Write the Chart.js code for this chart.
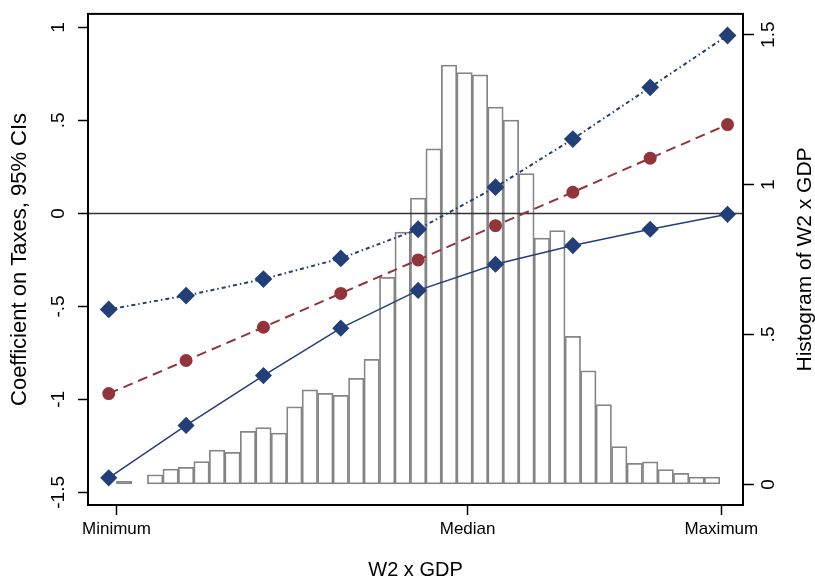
<!DOCTYPE html>
<html>
<head>
<meta charset="utf-8">
<script src="https://cdn.jsdelivr.net/npm/chart.js@4"></script>
<style>
  html, body { margin: 0; padding: 0; background: #fff; }
</style>
</head>
<body>
<canvas id="myChart" width="815" height="583"></canvas>
<script>
// histogram of W2 x GDP (x in bin units, density on right axis)
const binCenters = [-1.5, 0.5, 1.5, 2.5, 3.5, 4.5, 5.5, 6.5, 7.5, 8.5, 9.5, 10.5, 11.5, 12.5,
  13.5, 14.5, 15.5, 16.5, 17.5, 18.5, 19.5, 20.5, 21.5, 22.5, 23.5, 24.5, 25.5, 26.5,
  27.5, 28.5, 29.5, 30.5, 31.5, 32.5, 33.5, 34.5, 35.5, 36.5];
const histDensity = [0.01, 0.032, 0.051, 0.057, 0.076, 0.114, 0.107, 0.177, 0.189, 0.171, 0.259,
  0.315, 0.304, 0.297, 0.354, 0.417, 0.691, 0.842, 0.955, 1.119, 1.399, 1.374, 1.366,
  1.259, 1.215, 1.037, 0.822, 0.847, 0.494, 0.379, 0.266, 0.126, 0.070, 0.075, 0.049,
  0.037, 0.024, 0.024];

// marginal effect of taxes and 95% CIs
const evalPoints = [-2.5, 2.5, 7.5, 12.5, 17.5, 22.5, 27.5, 32.5, 37.5];
const ciUpper = [-0.516, -0.442, -0.353, -0.242, -0.085, 0.141, 0.400, 0.678, 0.957];
const coef    = [-0.969, -0.791, -0.612, -0.430, -0.250, -0.066, 0.114, 0.297, 0.478];
const ciLower = [-1.422, -1.140, -0.872, -0.617, -0.414, -0.273, -0.173, -0.085, -0.005];

const xTickValues = [-2, 20.7, 37.1];
const xTickLabels = ["Minimum", "Median", "Maximum"];
const leftTicks = [-1.5, -1, -0.5, 0, 0.5, 1];
const rightTicks = [0, 0.5, 1, 1.5];

const navy = "#233f78";
const maroon = "#93343b";
const barGray = "#858585";

function stataNum(v) {
  return String(v).replace(/^(-?)0\./, "$1.");
}
function pts(xs, ys) {
  return xs.map((x, i) => ({x: x, y: ys[i]}));
}

Chart.defaults.font.family = "'Liberation Sans', Arial, sans-serif";
Chart.defaults.color = "#000";

const extras = {
  id: "extras",
  afterDatasetDraw(chart, args) {
    if (args.index !== 3) return;
    const {ctx, chartArea: a} = chart;
    const y0 = chart.scales.y.getPixelForValue(0);
    ctx.save();
    ctx.strokeStyle = "#333";
    ctx.lineWidth = 1.5;
    ctx.beginPath();
    ctx.moveTo(a.left, y0);
    ctx.lineTo(a.right, y0);
    ctx.stroke();
    ctx.restore();
  },
  afterDraw(chart) {
    const {ctx, chartArea: a} = chart;
    ctx.save();
    ctx.strokeStyle = "#000";
    ctx.lineWidth = 2;
    ctx.strokeRect(a.left, a.top, a.right - a.left, a.bottom - a.top);
    // right axis title reads bottom to top
    ctx.translate(805, (a.top + a.bottom) / 2);
    ctx.rotate(-Math.PI / 2);
    ctx.fillStyle = "#000";
    ctx.font = "21px 'Liberation Sans', Arial, sans-serif";
    ctx.textAlign = "center";
    ctx.textBaseline = "middle";
    ctx.fillText("Histogram of W2 x GDP", 0, 0);
    ctx.restore();
  }
};

new Chart("myChart", {
  data: {
    datasets: [
      {
        type: "line",
        data: pts(evalPoints, ciLower),
        borderColor: navy,
        borderWidth: 1.5,
        pointStyle: "rectRot",
        pointRadius: 7.5,
        pointBackgroundColor: navy,
        pointBorderColor: navy,
        tension: 0,
        yAxisID: "y"
      },
      {
        type: "line",
        data: pts(evalPoints, coef),
        borderColor: maroon,
        borderWidth: 2,
        borderDash: [10, 6],
        pointStyle: "circle",
        pointRadius: 5.5,
        pointBackgroundColor: maroon,
        pointBorderColor: maroon,
        tension: 0,
        yAxisID: "y"
      },
      {
        type: "line",
        data: pts(evalPoints, ciUpper),
        borderColor: navy,
        borderWidth: 2,
        borderDash: [4, 3, 1.5, 3],
        pointStyle: "rectRot",
        pointRadius: 7.5,
        pointBackgroundColor: navy,
        pointBorderColor: navy,
        tension: 0,
        yAxisID: "y"
      },
      {
        type: "bar",
        data: pts(binCenters, histDensity),
        // the near-empty first bin shows as a solid grey dash
        backgroundColor: c => (c.raw && c.raw.y < 0.02 ? barGray : "#fff"),
        borderColor: barGray,
        borderWidth: 1.75,
        borderSkipped: false,
        barPercentage: 1,
        categoryPercentage: 1,
        yAxisID: "y2"
      }
    ]
  },
  options: {
    responsive: false,
    animation: false,
    layout: {padding: {top: 5, left: 0, right: 0, bottom: 0}},
    plugins: {legend: {display: false}, tooltip: {enabled: false}},
    scales: {
      x: {
        type: "linear",
        min: -3.84,
        max: 38.5,
        offset: false,
        afterBuildTicks: s => { s.ticks = xTickValues.map(v => ({value: v})); },
        afterFit: s => { s.height = 78; },
        ticks: {
          autoSkip: false,
          maxRotation: 0,
          padding: 4,
          font: {size: 17},
          callback: (v, i) => xTickLabels[i]
        },
        grid: {offset: false, drawOnChartArea: false, tickLength: 10, tickColor: "#000", tickWidth: 1.5},
        border: {display: false},
        title: {display: true, text: "W2 x GDP", font: {size: 20, lineHeight: 1}, padding: {top: 0, bottom: 3}}
      },
      y: {
        type: "linear",
        position: "left",
        min: -1.568,
        max: 1.073,
        afterBuildTicks: s => { s.ticks = leftTicks.map(v => ({value: v})); },
        afterFit: s => { s.width = 88; },
        ticks: {
          minRotation: 90,
          maxRotation: 90,
          crossAlign: "center",
          padding: 2.5,
          font: {size: 19},
          callback: v => stataNum(v)
        },
        grid: {drawOnChartArea: false, tickLength: 10, tickColor: "#000", tickWidth: 1.5},
        border: {display: false},
        title: {display: true, text: "Coefficient on Taxes, 95% CIs", font: {size: 22, lineHeight: 1}, padding: {top: 9, bottom: 0}}
      },
      y2: {
        type: "linear",
        position: "right",
        min: -0.0689,
        max: 1.5695,
        afterBuildTicks: s => { s.ticks = rightTicks.map(v => ({value: v})); },
        afterFit: s => { s.width = 72; },
        ticks: {
          minRotation: 90,
          maxRotation: 90,
          crossAlign: "center",
          padding: 1.6,
          font: {size: 19},
          callback: v => stataNum(v)
        },
        grid: {drawOnChartArea: false, tickLength: 11, tickColor: "#000", tickWidth: 1.5},
        border: {display: false}
      }
    }
  },
  plugins: [extras]
});
</script>
</body>
</html>
